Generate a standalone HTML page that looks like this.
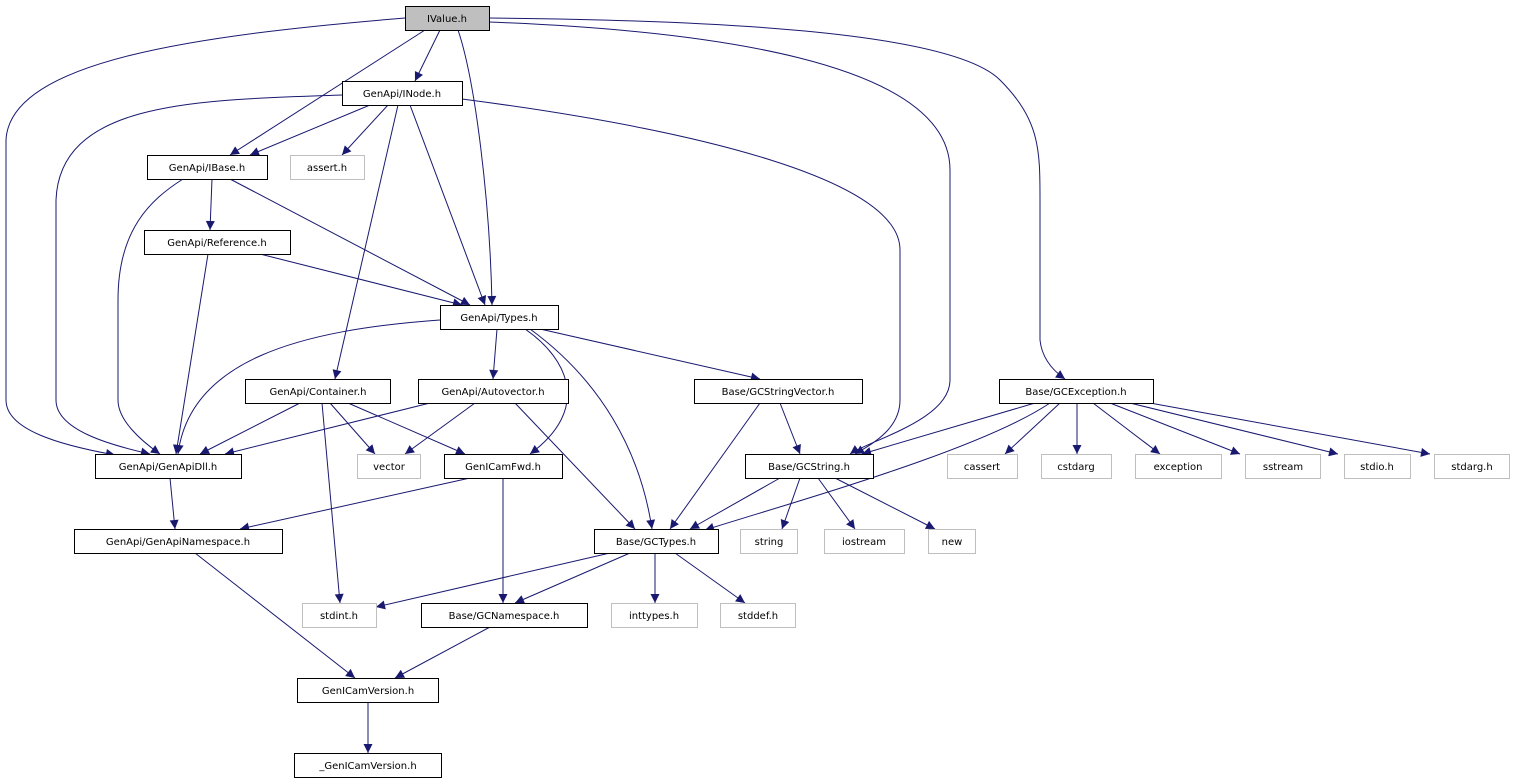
<!DOCTYPE html>
<html><head><meta charset="utf-8"><style>
html,body{margin:0;padding:0;background:#fff;}
svg{display:block;}
text{font-family:"DejaVu Sans","Liberation Sans",sans-serif;font-size:10px;fill:#000;}
</style></head><body>
<svg width="1515" height="784" viewBox="0 0 1515 784" xmlns="http://www.w3.org/2000/svg">
<defs>
<marker id="a" viewBox="0 0 10 10" refX="10" refY="5" markerWidth="10" markerHeight="9" markerUnits="userSpaceOnUse" orient="auto">
<path d="M0,0 L10,5 L0,10 z" fill="#191970"/>
</marker>
</defs>
<g fill="none" stroke="#191970" stroke-width="1" marker-end="url(#a)">
<path d="M405,18 C200,35 10,60 6,140 L6,400 C6,430 60,445 115,455"/>
<path d="M425,30 L230,155"/>
<path d="M440,30 L415,81"/>
<path d="M458,30 C475,80 490,200 492,305"/>
<path d="M489,22 C700,30 950,60 950,170 L950,380 C950,420 870,440 850,454"/>
<path d="M489,18 C700,20 950,30 1000,80 C1040,120 1040,150 1040,200 L1040,340 C1042,360 1055,372 1065,379"/>
<path d="M342,95 C200,100 60,100 56,200 L56,400 C56,430 110,445 150,454"/>
<path d="M370,105 L250,155"/>
<path d="M388,105 L342,155"/>
<path d="M398,105 L335,379"/>
<path d="M410,105 L485,305"/>
<path d="M462,99 C700,130 900,180 900,250 L900,400 C900,430 870,445 855,454"/>
<path d="M212,179 L210,230"/>
<path d="M230,179 L470,305"/>
<path d="M183,179 C150,200 118,230 118,300 L118,400 C118,420 140,440 160,454"/>
<path d="M260,254 L462,305"/>
<path d="M208,254 L176,454"/>
<path d="M440,320 C300,330 190,360 178,454"/>
<path d="M497,329 L493,379"/>
<path d="M540,329 L760,379"/>
<path d="M525,329 C570,360 590,410 530,454"/>
<path d="M530,329 C600,380 640,450 652,529"/>
<path d="M300,403 L200,454"/>
<path d="M330,403 L375,454"/>
<path d="M348,403 L465,454"/>
<path d="M322,403 L340,603"/>
<path d="M430,403 L225,454"/>
<path d="M475,403 L405,454"/>
<path d="M515,403 L635,529"/>
<path d="M470,478 L240,529"/>
<path d="M503,478 L503,603"/>
<path d="M780,403 L800,454"/>
<path d="M760,403 L670,529"/>
<path d="M1035,403 L862,454"/>
<path d="M1050,403 C980,450 800,500 705,530"/>
<path d="M1060,403 L1005,454"/>
<path d="M1077,403 L1077,454"/>
<path d="M1093,403 L1160,454"/>
<path d="M1110,403 L1240,454"/>
<path d="M1130,403 L1338,454"/>
<path d="M1150,403 L1430,454"/>
<path d="M170,478 L175,529"/>
<path d="M780,478 L690,529"/>
<path d="M800,478 L782,529"/>
<path d="M818,478 L855,529"/>
<path d="M835,478 L935,529"/>
<path d="M195,553 L355,678"/>
<path d="M610,553 L376,607"/>
<path d="M630,553 L515,603"/>
<path d="M655,553 L655,603"/>
<path d="M675,553 L745,603"/>
<path d="M490,627 L395,678"/>
<path d="M368,702 L368,753"/>
</g>
<g stroke-width="1" text-anchor="middle">
<!-- x,w,y -->
<rect x="405.5" y="6.5" width="84" height="24" fill="#bfbfbf" stroke="#000"/><text x="447" y="22">IValue.h</text>
<rect x="342.5" y="81.5" width="120" height="24" fill="#fff" stroke="#000"/><text x="402" y="97">GenApi/INode.h</text>
<rect x="147.5" y="155.5" width="120" height="24" fill="#fff" stroke="#000"/><text x="207" y="171">GenApi/IBase.h</text>
<rect x="290.5" y="155.5" width="74" height="24" fill="#fff" stroke="#bfbfbf"/><text x="327" y="171">assert.h</text>
<rect x="144.5" y="230.5" width="146" height="24" fill="#fff" stroke="#000"/><text x="217" y="246">GenApi/Reference.h</text>
<rect x="440.5" y="305.5" width="118" height="24" fill="#fff" stroke="#000"/><text x="499" y="321">GenApi/Types.h</text>
<rect x="245.5" y="379.5" width="145" height="24" fill="#fff" stroke="#000"/><text x="318" y="395">GenApi/Container.h</text>
<rect x="418.5" y="379.5" width="150" height="24" fill="#fff" stroke="#000"/><text x="493" y="395">GenApi/Autovector.h</text>
<rect x="694.5" y="379.5" width="168" height="24" fill="#fff" stroke="#000"/><text x="778" y="395">Base/GCStringVector.h</text>
<rect x="999.5" y="379.5" width="154" height="24" fill="#fff" stroke="#000"/><text x="1076" y="395">Base/GCException.h</text>
<rect x="95.5" y="454.5" width="146" height="24" fill="#fff" stroke="#000"/><text x="168" y="470">GenApi/GenApiDll.h</text>
<rect x="357.5" y="454.5" width="63" height="24" fill="#fff" stroke="#bfbfbf"/><text x="389" y="470">vector</text>
<rect x="444.5" y="454.5" width="118" height="24" fill="#fff" stroke="#000"/><text x="503" y="470">GenICamFwd.h</text>
<rect x="745.5" y="454.5" width="128" height="24" fill="#fff" stroke="#000"/><text x="809" y="470">Base/GCString.h</text>
<rect x="947.5" y="454.5" width="70" height="24" fill="#fff" stroke="#bfbfbf"/><text x="982" y="470">cassert</text>
<rect x="1041.5" y="454.5" width="70" height="24" fill="#fff" stroke="#bfbfbf"/><text x="1076" y="470">cstdarg</text>
<rect x="1135.5" y="454.5" width="86" height="24" fill="#fff" stroke="#bfbfbf"/><text x="1178" y="470">exception</text>
<rect x="1245.5" y="454.5" width="75" height="24" fill="#fff" stroke="#bfbfbf"/><text x="1283" y="470">sstream</text>
<rect x="1344.5" y="454.5" width="66" height="24" fill="#fff" stroke="#bfbfbf"/><text x="1377" y="470">stdio.h</text>
<rect x="1434.5" y="454.5" width="75" height="24" fill="#fff" stroke="#bfbfbf"/><text x="1472" y="470">stdarg.h</text>
<rect x="74.5" y="529.5" width="208" height="24" fill="#fff" stroke="#000"/><text x="178" y="545">GenApi/GenApiNamespace.h</text>
<rect x="594.5" y="529.5" width="124" height="24" fill="#fff" stroke="#000"/><text x="656" y="545">Base/GCTypes.h</text>
<rect x="740.5" y="529.5" width="57" height="24" fill="#fff" stroke="#bfbfbf"/><text x="769" y="545">string</text>
<rect x="824.5" y="529.5" width="80" height="24" fill="#fff" stroke="#bfbfbf"/><text x="864" y="545">iostream</text>
<rect x="928.5" y="529.5" width="47" height="24" fill="#fff" stroke="#bfbfbf"/><text x="952" y="545">new</text>
<rect x="302.5" y="603.5" width="74" height="24" fill="#fff" stroke="#bfbfbf"/><text x="339" y="619">stdint.h</text>
<rect x="421.5" y="603.5" width="166" height="24" fill="#fff" stroke="#000"/><text x="504" y="619">Base/GCNamespace.h</text>
<rect x="611.5" y="603.5" width="86" height="24" fill="#fff" stroke="#bfbfbf"/><text x="654" y="619">inttypes.h</text>
<rect x="720.5" y="603.5" width="75" height="24" fill="#fff" stroke="#bfbfbf"/><text x="758" y="619">stddef.h</text>
<rect x="297.5" y="678.5" width="141" height="24" fill="#fff" stroke="#000"/><text x="368" y="694">GenICamVersion.h</text>
<rect x="294.5" y="753.5" width="147" height="24" fill="#fff" stroke="#000"/><text x="368" y="769">_GenICamVersion.h</text>
</g>
</svg>
</body></html>
